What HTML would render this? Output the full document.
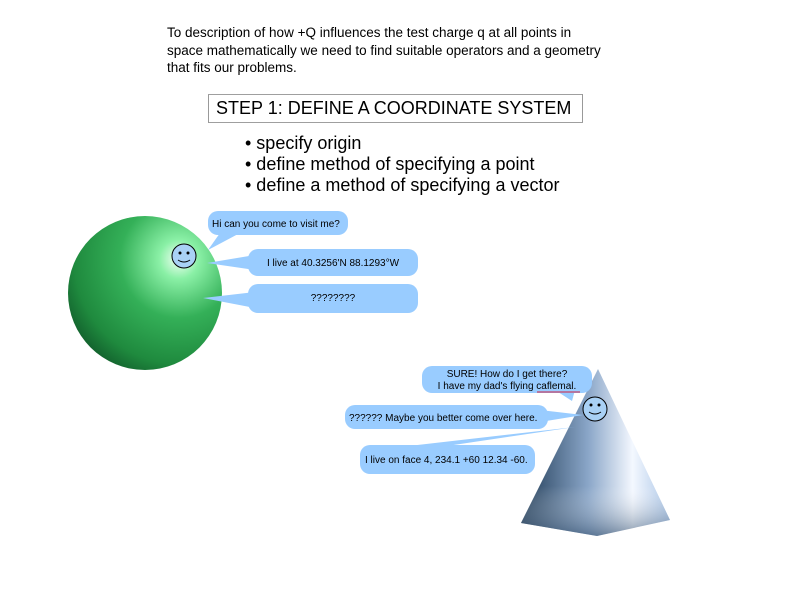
<!DOCTYPE html>
<html><head><meta charset="utf-8"><style>
body{margin:0;width:800px;height:600px;background:#fff;font-family:"Liberation Sans",sans-serif;overflow:hidden}
svg{position:absolute;left:0;top:0}
</style></head><body>
<svg width="800" height="600" font-family="Liberation Sans, sans-serif">
<defs>
<radialGradient id="g" cx="0.72" cy="0.28" r="0.85">
<stop offset="0" stop-color="#f4fff6"/><stop offset="0.15" stop-color="#8af0a6"/><stop offset="0.45" stop-color="#34b058"/><stop offset="0.8" stop-color="#1f8a3e"/><stop offset="1" stop-color="#10592a"/>
</radialGradient>
<linearGradient id="p" x1="0" y1="0" x2="1" y2="0">
<stop offset="0" stop-color="#1f3a55"/><stop offset="0.45" stop-color="#8aa6c8"/><stop offset="0.75" stop-color="#f4f8ff"/><stop offset="1" stop-color="#a9c4e6"/>
</linearGradient>
<linearGradient id="p2" x1="0" y1="0" x2="0" y2="1">
<stop offset="0.7" stop-color="#fff" stop-opacity="0"/><stop offset="1" stop-color="#35506e" stop-opacity="0.6"/>
</linearGradient>
</defs>
<text font-size="13.5" fill="#000"><tspan x="167" y="37">To description of how +Q influences the test charge q at all points in</tspan><tspan x="167" y="55">space mathematically we need to find suitable operators and a geometry</tspan><tspan x="167" y="72">that fits our problems.</tspan></text>
<rect x="208.5" y="94.5" width="374" height="28" fill="none" stroke="#000" stroke-width="0.8" stroke-dasharray="1,1"/>
<text x="216" y="114" font-size="18">STEP 1: DEFINE A COORDINATE SYSTEM</text>
<text font-size="18"><tspan x="245" y="149">• specify origin</tspan><tspan x="245" y="170">• define method of specifying a point</tspan><tspan x="245" y="191">• define a method of specifying a vector</tspan></text>
<circle cx="145" cy="293" r="77" fill="url(#g)"/>
<circle cx="184" cy="256" r="12" fill="#a9d1f5" stroke="#000"/>
<circle cx="180" cy="253" r="1.5"/><circle cx="188" cy="253" r="1.5"/>
<path d="M178 260 Q184 264 190 260" fill="none" stroke="#000"/>
<g fill="#99ccff">
<rect x="208" y="211" width="140" height="24" rx="10"/><polygon points="220,233 240,233 208,250"/>
<rect x="248" y="249" width="170" height="27" rx="10"/><polygon points="255,255 255,270 207,263"/>
<rect x="248" y="284" width="170" height="29" rx="10"/><polygon points="255,292 255,308 203,298"/>
</g>
<g font-size="10" fill="#000">
<text x="212" y="227">Hi can you come to visit me?</text>
<text x="333" y="266" text-anchor="middle">I live at 40.3256'N 88.1293°W</text>
<text x="333" y="301" text-anchor="middle">????????</text>
</g>
<polygon points="598,369 521,523 597,536 670,520" fill="url(#p)"/>
<polygon points="598,369 521,523 597,536 670,520" fill="url(#p2)"/>
<circle cx="595" cy="409" r="12" fill="#a9d1f5" stroke="#000"/>
<circle cx="591" cy="405" r="1.5"/><circle cx="599" cy="405" r="1.5"/>
<path d="M589 412 Q595 416 601 412" fill="none" stroke="#000"/>
<g fill="#99ccff">
<rect x="422" y="366" width="170" height="27" rx="10"/><polygon points="555,390 575,390 572,401"/>
<rect x="345" y="405" width="203" height="24" rx="10"/><polygon points="540,410 540,422 583,415"/>
<rect x="360" y="445" width="175" height="29" rx="10"/><polygon points="400,447 440,447 575,427"/>
</g>
<g font-size="10" fill="#000">
<text x="507" y="377" text-anchor="middle">SURE! How do I get there?</text>
<text x="507" y="389" text-anchor="middle">I have my dad's flying caflemal.</text>
<text x="349" y="421">?????? Maybe you better come over here.</text>
<text x="365" y="463">I live on face 4, 234.1 +60 12.34 -60.</text>
</g>
<path d="M537 392 L580 392" stroke="#d02040" stroke-width="1"/>
</svg>
</body></html>
